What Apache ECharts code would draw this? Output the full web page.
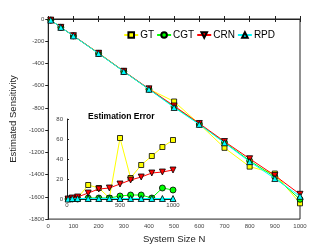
<!DOCTYPE html>
<html><head><meta charset="utf-8">
<script src="https://cdn.jsdelivr.net/npm/echarts@6/dist/echarts.min.js"></script>
<style>html,body{margin:0;padding:0;background:#fff}#c{width:332px;height:249px}</style>
</head><body><div id="c"></div>
<script>
var N = [10, 50, 100, 200, 300, 400, 500, 600, 700, 800, 900, 1000];
var gt  = [-10, -75, -152, -306, -470, -630, -742, -945, -1159, -1328, -1390, -1658];
var cgt = [-10, -75, -152, -310, -472, -632, -790, -945, -1110, -1275, -1420, -1622];
var crn = [-10, -75, -150, -308, -470, -628, -782, -940, -1102, -1257, -1408, -1577];
var rpd = [-10, -75, -152, -310, -472, -632, -796, -948, -1114, -1283, -1435, -1595];
var gtErr  = [0, 1, 1, 14, 11, 1, 61, 21, 34, 43, 52, 59];
var cgtErr = [0, 0, 0, 1, 1, 1, 3, 4, 4, 1, 11, 9];
var crnErr = [0, 1, 2, 6, 10, 11, 15, 19, 22, 26, 27, 29];
var rpdErr = [0, 0.5, 0.5, 0.5, 0.5, 0.5, 0.5, 0.5, 0.5, 0.5, 0.5, 0.5];
var names = ['GT', 'CGT', 'CRN', 'RPD'];
var colors = ['#ffff00', '#00ff00', '#ff0000', '#00ffff'];
var symbols = ['rect', 'circle', 'path://M0,0L10,0L5,9Z', 'triangle'];
var mainVals = [gt, cgt, crn, rpd];
var errVals = [gtErr, cgtErr, crnErr, rpdErr];

function pairs(xs, ys) { return xs.map(function (x, i) { return [x, ys[i]]; }); }
function plain(v) { return String(v); }

var font = 'Liberation Sans, Arial, sans-serif';
var lbl = { fontSize: 6, color: '#444', fontFamily: font, formatter: plain };
var series = [];
names.forEach(function (n, i) {
  series.push({
    name: n, type: 'line', xAxisIndex: 0, yAxisIndex: 0,
    data: pairs(N, mainVals[i]), symbol: symbols[i], symbolSize: i === 0 ? 5 : 6,
    lineStyle: { color: colors[i], width: 1 },
    itemStyle: { color: colors[i], borderColor: '#000', borderWidth: 0.8 },
    animation: false, z: 2 + i
  });
});
names.forEach(function (n, i) {
  series.push({
    name: n, type: 'line', xAxisIndex: 2, yAxisIndex: 2,
    data: pairs(N, errVals[i]), symbol: symbols[i], symbolSize: i === 0 ? 5 : 6,
    lineStyle: { color: colors[i], width: 1 },
    itemStyle: { color: colors[i], borderColor: '#000', borderWidth: 0.8 },
    animation: false, z: 2 + i
  });
});

var chart = echarts.init(document.getElementById('c'), null, { renderer: 'canvas' });
chart.setOption({
  backgroundColor: '#fff',
  animation: false,
  title: {
    text: 'Estimation Error', left: 83, top: 107,
    textStyle: { fontSize: 8.5, fontWeight: 'bold', fontFamily: font, color: '#000' }
  },
  legend: {
    data: names, right: 52, top: 25, itemWidth: 14, itemHeight: 7, itemGap: 2,
    textStyle: { fontSize: 10, fontFamily: font, color: '#000', padding: [0, 0, 0, -3] }
  },
  grid: [
    { left: 43, right: 32, top: 19, bottom: 28, show: true, borderColor: '#222', borderWidth: 1 },
    { left: 67, top: 119, width: 106, height: 80 }
  ],
  xAxis: [
    { gridIndex: 0, type: 'value', min: 0, max: 1000, interval: 100, position: 'bottom',
      name: 'System Size N', nameLocation: 'middle', nameGap: 12,
      nameTextStyle: { fontSize: 9.5, fontFamily: font, color: '#222' },
      axisLine: { lineStyle: { color: '#222' } }, axisTick: { inside: true, length: 3, lineStyle: { color: '#222' } },
      axisLabel: Object.assign({ margin: 4 }, lbl), splitLine: { show: false } },
    { gridIndex: 0, type: 'value', min: 0, max: 1000, interval: 100, position: 'top',
      axisLine: { lineStyle: { color: '#222' } }, axisTick: { inside: true, length: 3, lineStyle: { color: '#222' } },
      axisLabel: { show: false }, splitLine: { show: false } },
    { gridIndex: 1, type: 'value', min: 0, max: 1000, interval: 500,
      axisLine: { onZero: false, lineStyle: { color: '#222' } }, axisTick: { show: false },
      axisLabel: Object.assign({ margin: 3 }, lbl), splitLine: { show: false } }
  ],
  yAxis: [
    { gridIndex: 0, type: 'value', min: -1800, max: 0, interval: 200, position: 'left',
      name: 'Estimated Sensitivity', nameLocation: 'middle', nameGap: 21,
      nameTextStyle: { fontSize: 9.5, fontFamily: font, color: '#222' },
      axisLine: { lineStyle: { color: '#222' } }, axisTick: { inside: false, length: 2, lineStyle: { color: '#222' } },
      axisLabel: Object.assign({ margin: 4 }, lbl), splitLine: { show: false } },
    { gridIndex: 0, type: 'value', min: -1800, max: 0, interval: 200, position: 'right',
      axisLine: { lineStyle: { color: '#222' } }, axisTick: { inside: true, length: 3, lineStyle: { color: '#222' } },
      axisLabel: { show: false }, splitLine: { show: false } },
    { gridIndex: 1, type: 'value', min: 0, max: 80, interval: 20,
      axisLine: { lineStyle: { color: '#222' } }, axisTick: { inside: true, length: 2, lineStyle: { color: '#222' } },
      axisLabel: Object.assign({ margin: 4 }, lbl), splitLine: { show: false } }
  ],
  series: series
});
</script></body></html>
